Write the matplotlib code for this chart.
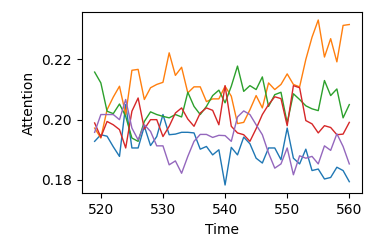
import numpy as np
import matplotlib
matplotlib.use('Agg')
import matplotlib.pyplot as plt

# time steps shown
time = np.arange(519, 561)

# attention per head
head0 = [0.1928, 0.1950, 0.1945, 0.1910, 0.1878, 0.2050, 0.1906, 0.1906, 0.1978, 0.1914,
         0.1944, 0.2017, 0.1950, 0.1952, 0.1958, 0.1958, 0.1956, 0.1902, 0.1911, 0.1883,
         0.1900, 0.1783, 0.1908, 0.1883, 0.1942, 0.1920, 0.1872, 0.1856, 0.1906, 0.1906,
         0.1867, 0.1972, 0.1872, 0.1853, 0.1902, 0.1831, 0.1836, 0.1803, 0.1808, 0.1842,
         0.1831, 0.1794]
head1 = [0.1972, 0.1939, 0.2033, 0.2075, 0.2111, 0.2017, 0.2164, 0.2167, 0.2067, 0.2106,
         0.2117, 0.2124, 0.2222, 0.2147, 0.2174, 0.2089, 0.2109, 0.2109, 0.2060, 0.2069,
         0.2069, 0.2111, 0.2078, 0.1987, 0.1991, 0.2033, 0.2080, 0.2039, 0.2122, 0.2100,
         0.2117, 0.2152, 0.2117, 0.2109, 0.2200, 0.2274, 0.2331, 0.2208, 0.2269, 0.2192,
         0.2313, 0.2316]
head2 = [0.2158, 0.2122, 0.2028, 0.2020, 0.2052, 0.2011, 0.1939, 0.1928, 0.1994, 0.2026,
         0.2017, 0.2011, 0.2006, 0.2017, 0.2009, 0.2091, 0.2044, 0.2017, 0.2044, 0.2080,
         0.2098, 0.2056, 0.2111, 0.2178, 0.2094, 0.2113, 0.2100, 0.2142, 0.2044, 0.2083,
         0.2091, 0.1989, 0.2086, 0.2067, 0.2046, 0.2036, 0.2030, 0.2130, 0.2080, 0.2102,
         0.2006, 0.2050]
head3 = [0.1989, 0.1942, 0.1994, 0.1983, 0.1967, 0.1906, 0.2028, 0.2072, 0.1969, 0.2000,
         0.2000, 0.1944, 0.1978, 0.2022, 0.2039, 0.2002, 0.1978, 0.2022, 0.2039, 0.2031,
         0.1983, 0.2113, 0.1978, 0.1956, 0.1950, 0.1928, 0.1970, 0.2017, 0.2050, 0.2076,
         0.2070, 0.1980, 0.2113, 0.2106, 0.1997, 0.1986, 0.1956, 0.1980, 0.1974, 0.1950,
         0.1952, 0.1991]
head4 = [0.1958, 0.2017, 0.2017, 0.2017, 0.2000, 0.2067, 0.1972, 0.1933, 0.1983, 0.1961,
         0.1913, 0.1913, 0.1850, 0.1863, 0.1822, 0.1878, 0.1928, 0.1951, 0.1951, 0.1941,
         0.1948, 0.1947, 0.1928, 0.2009, 0.2029, 0.2017, 0.1983, 0.1950, 0.1889, 0.1839,
         0.1853, 0.1906, 0.1817, 0.1880, 0.1872, 0.1878, 0.1853, 0.1913, 0.1898, 0.1953,
         0.1911, 0.1853]

fig = plt.figure(figsize=(3.74, 2.5), dpi=100)
ax = fig.add_subplot(111)
fig.subplots_adjust(left=0.219, right=0.968, top=0.953, bottom=0.227)

for series in (head0, head1, head2, head3, head4):
	ax.plot(time, series, linewidth=1.0)

ax.set_xticks([520, 530, 540, 550, 560])
ax.set_yticks([0.18, 0.20, 0.22])
ax.set_xlabel('Time')
ax.set_ylabel('Attention')

fig.savefig('out.png', dpi=100)
plt.close(fig)
